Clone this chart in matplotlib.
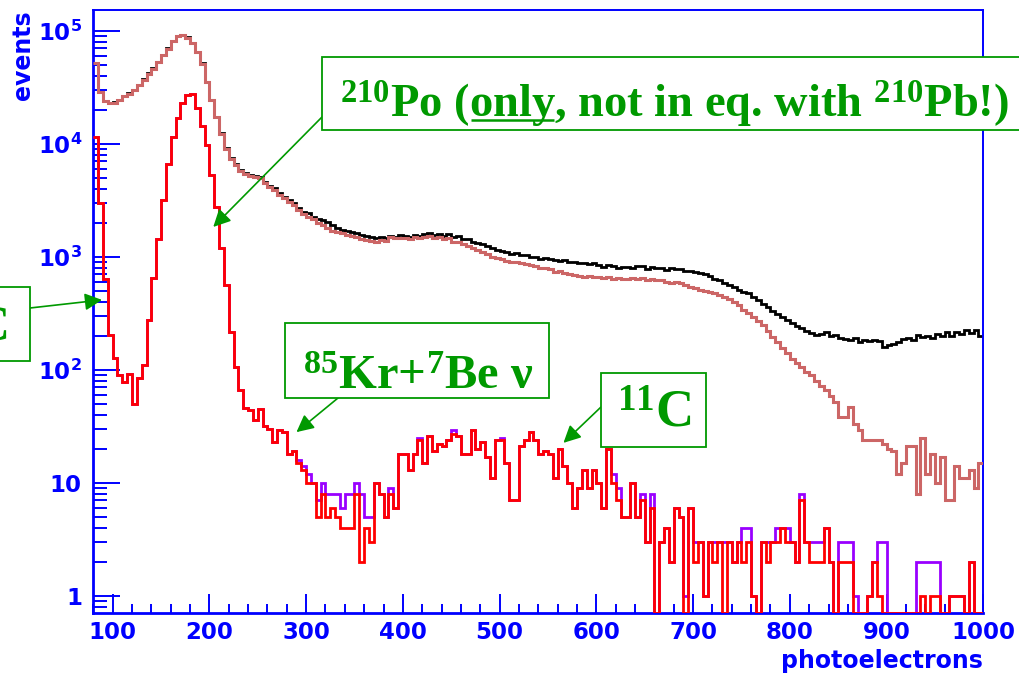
import numpy as np
import matplotlib
matplotlib.use("Agg")
import matplotlib.pyplot as plt
from matplotlib.patches import Rectangle
from matplotlib.font_manager import FontProperties
from matplotlib.ticker import FixedLocator, FixedFormatter, MultipleLocator, NullFormatter

# ---------------- data ----------------
bin_start = 80
bin_width = 5

# black: all events
total_counts = [
    51400, 28500, 24000, 23000, 23200, 24400, 26400, 27900, 29900, 33100,
    37100, 42000, 46500, 53200, 61000, 69800, 81600, 90300, 91600, 87300,
    78300, 65200, 51400, 35400, 24400, 17300, 12400, 9100, 7430, 6600,
    5850, 5470, 5290, 5170, 5040, 4610, 4250, 4030, 3640, 3400,
    3180, 2970, 2700, 2500, 2420, 2250, 2150, 2100, 2040, 1900,
    1780, 1720, 1700, 1650, 1610, 1560, 1520, 1480, 1455, 1500,
    1470, 1525, 1500, 1550, 1520, 1490, 1560, 1530, 1580, 1610,
    1560, 1590, 1520, 1600, 1480, 1510, 1440, 1420, 1360, 1315,
    1290, 1230, 1180, 1145, 1120, 1090, 1060, 1070, 1030, 1035,
    1000, 990, 960, 975, 950, 935, 920, 940, 900, 890,
    875, 880, 860, 873, 850, 816, 850, 830, 800, 810,
    816, 790, 830, 820, 780, 810, 800, 789, 760, 800,
    780, 770, 750, 740, 730, 721, 700, 670, 640, 622,
    590, 565, 540, 510, 490, 474, 440, 410, 380, 360,
    330, 310, 295, 275, 260, 244, 235, 220, 210, 203,
    205, 215, 200, 203, 190, 185, 183, 190, 175, 183,
    180, 183, 178, 160, 165, 170, 176, 185, 190, 182,
    203, 195, 198, 190, 205, 198, 215, 200, 217, 205,
    222, 210, 225, 198,
]

# salmon: after first cuts
cut_counts = [
    51400, 28500, 24000, 22800, 23000, 24200, 26200, 27600, 29700, 32800,
    36800, 41500, 46000, 52800, 60500, 69200, 81000, 89800, 91000, 86800,
    77800, 64800, 51000, 35100, 24200, 17100, 12200, 8950, 7300, 6480,
    5750, 5380, 5200, 5080, 4950, 4500, 4150, 3900, 3500, 3300,
    3050, 2850, 2600, 2400, 2260, 2130, 2000, 1900, 1783, 1700,
    1650, 1610, 1560, 1520, 1490, 1430, 1400, 1370, 1360, 1400,
    1380, 1490, 1450, 1470, 1470, 1430, 1480, 1460, 1500, 1520,
    1470, 1480, 1420, 1450, 1360, 1340, 1280, 1230, 1180, 1145,
    1100, 1050, 1000, 968, 950, 920, 900, 890, 873, 860,
    840, 820, 800, 790, 770, 736, 740, 720, 700, 690,
    680, 665, 670, 660, 665, 650, 660, 640, 650, 640,
    640, 650, 630, 645, 620, 635, 625, 622, 600, 590,
    600, 580, 560, 543, 525, 507, 495, 485, 474, 460,
    440, 420, 400, 370, 340, 315, 290, 270, 249, 220,
    195, 175, 155, 140, 125, 114, 105, 95, 90, 80,
    72, 66, 58, 52, 38, 38, 47, 33, 29, 24,
    24, 24, 24, 22, 20, 19, 12, 15, 21, 21,
    8, 25, 12, 18, 10, 17, 7, 7, 14, 11,
    11, 13, 9, 15,
]

# purple: intermediate selection
purple_counts = [
    11500, 2970, 633, 203, 126, 90, 78, 91, 50, 84,
    110, 275, 644, 1425, 3180, 6600, 11400, 16800, 22800, 27000,
    27500, 20600, 14200, 9740, 5290, 2740, 1190, 562, 217, 106,
    66, 46, 44, 36, 45, 32, 30, 23, 29, 28,
    18, 19, 16, 14, 12, 10, 7, 10, 8, 8,
    8, 6, 8, 8, 10, 8, 5, 5, 10, 8,
    5, 9, 6, 18, 18, 13, 18, 25, 15, 26,
    19, 22, 21, 24, 29, 26, 18, 18, 29, 20,
    23, 17, 11, 24, 25, 15, 7, 7, 21, 24,
    28, 24, 18, 19, 18, 11, 20, 14, 10, 6,
    9, 13, 9, 13, 10, 6, 20, 12, 9, 5,
    5, 10, 5, 8, 3, 8, 0, 3, 4, 2,
    6, 5, 1, 6, 3, 3, 1, 3, 3, 3,
    3, 3, 2, 3, 4, 4, 1, 0, 3, 3,
    3, 4, 4, 4, 3, 2, 8, 3, 3, 3,
    3, 4, 2, 0, 3, 3, 3, 1, 0, 0,
    1, 2, 3, 3, 0, 0, 0, 0, 0, 0,
    2, 2, 2, 2, 2, 0, 0, 1, 1, 1,
    0, 2, 0, 0,
]

# red: final selection
final_counts = [
    11500, 2970, 633, 203, 126, 90, 78, 91, 50, 84,
    110, 275, 644, 1425, 3180, 6600, 11400, 16800, 22800, 27000,
    27500, 20600, 14200, 9740, 5290, 2740, 1190, 562, 217, 106,
    66, 46, 44, 36, 45, 32, 30, 23, 29, 28,
    18, 19, 15, 13, 10, 10, 5, 8, 5, 6,
    5, 4, 4, 4, 8, 2, 4, 3, 10, 8,
    5, 8, 6, 18, 18, 13, 18, 24, 15, 26,
    19, 22, 21, 24, 27, 26, 18, 18, 29, 20,
    23, 17, 11, 24, 24, 15, 7, 7, 21, 24,
    28, 24, 18, 19, 18, 11, 20, 14, 10, 6,
    9, 13, 9, 13, 10, 6, 20, 10, 7, 5,
    5, 10, 5, 7, 3, 6, 0, 3, 4, 2,
    6, 5, 0, 6, 2, 3, 1, 3, 2, 3,
    0, 3, 2, 3, 2, 3, 1, 0, 3, 2,
    3, 3, 4, 3, 3, 2, 7, 3, 2, 2,
    2, 4, 2, 0, 2, 2, 2, 0, 0, 0,
    1, 2, 1, 0, 0, 0, 0, 0, 0, 0,
    0, 1, 0, 1, 1, 0, 0, 1, 1, 1,
    0, 2, 0, 0,
]

x_ticks = [100, 200, 300, 400, 500, 600, 700, 800, 900, 1000]
x_tick_labels = ["100", "200", "300", "400", "500", "600", "700", "800", "900", "1000"]
y_ticks = [1, 10, 100, 1000, 10000, 100000]
y_tick_labels = [r"$\mathbf{1}$", r"$\mathbf{10}$", r"$\mathbf{10^{2}}$",
                 r"$\mathbf{10^{3}}$", r"$\mathbf{10^{4}}$", r"$\mathbf{10^{5}}$"]

x_label = "photoelectrons"
y_label = "events"

po_text = r"$^{210}$Po (only, not in eq. with $^{210}$Pb!)"
po_prefix = r"$^{210}$Po ("
kr_text = r"$^{85}$Kr+$^{7}$Be ν"
c11_text = r"$^{11}$C"
c14_text = r"$^{14}$C"

# ---------------- style ----------------
BLUE = "#0000ff"
GREEN = "#009900"
SALMON = "#cc6666"
PURPLE = "#9900ff"
RED = "#ff0000"

plt.rcParams["font.family"] = ["DejaVu Sans"]
plt.rcParams["mathtext.rm"] = "Liberation Serif:bold"
plt.rcParams["mathtext.it"] = "Liberation Serif:bold"
plt.rcParams["mathtext.bf"] = "Liberation Serif:bold"

W, H = 1019, 675
fig = plt.figure(figsize=(W / 100, H / 100), dpi=100)
ax = fig.add_axes([93.3 / W, 62 / H, 890 / W, 603 / H])

y_min, y_max = 0.703, 1.52e5
edges = bin_start + bin_width * np.arange(len(total_counts) + 1)


def prep(vals):
    v = np.asarray(vals, dtype=float)
    return np.where(v > 0, v, y_min)


ax.stairs(prep(total_counts), edges, color="black", lw=2.0, baseline=None, zorder=2)
ax.stairs(prep(cut_counts), edges, color=SALMON, lw=2.2, baseline=None, zorder=3)
ax.stairs(prep(purple_counts), edges, color=PURPLE, lw=2.0, baseline=None, zorder=4)
ax.stairs(prep(final_counts), edges, color=RED, lw=2.0, baseline=None, zorder=5)

ax.set_yscale("log")
ax.set_xlim(80, 1000)
ax.set_ylim(y_min, y_max)

ax.xaxis.set_major_locator(FixedLocator(x_ticks))
ax.xaxis.set_major_formatter(FixedFormatter(x_tick_labels))
ax.xaxis.set_minor_locator(MultipleLocator(20))
ax.xaxis.set_minor_formatter(NullFormatter())
ax.yaxis.set_major_locator(FixedLocator(y_ticks))
ax.yaxis.set_major_formatter(FixedFormatter(y_tick_labels))
minor_y = [k * 10.0 ** d for d in range(-1, 6) for k in range(2, 10)
           if y_min < k * 10.0 ** d < y_max]
ax.yaxis.set_minor_locator(FixedLocator(minor_y))
ax.yaxis.set_minor_formatter(NullFormatter())

ax.tick_params(axis="y", which="major", direction="in", length=19.5, width=1.4,
               color=BLUE, labelcolor=BLUE, labelsize=16.5, pad=8)
ax.tick_params(axis="y", which="minor", direction="in", length=10, width=1.4, color=BLUE)
ax.tick_params(axis="x", which="major", direction="in", length=13.7, width=1.4,
               color=BLUE, labelcolor=BLUE, labelsize=16.5, pad=6)
ax.tick_params(axis="x", which="minor", direction="in", length=6.5, width=1.4, color=BLUE)
for lbl in ax.get_xticklabels():
    lbl.set_fontweight("bold")
for lbl in ax.get_yticklabels():
    lbl.set_math_fontfamily("dejavusans")

for side, sp in ax.spines.items():
    sp.set_color(BLUE)
    sp.set_linewidth(2.0 if side in ("left", "bottom") else 1.4)

fig.text(983 / W, 1 - 661 / H, x_label, ha="right", va="center", color=BLUE,
         fontsize=17, fontweight="bold")
fig.text(23 / W, 1 - 10 / H, y_label, ha="center", va="top", rotation=90,
         color=BLUE, fontsize=17, fontweight="bold")

# ---------------- annotations (pixel overlay) ----------------
ov = fig.add_axes([0, 0, 1, 1], zorder=10)
ov.set_xlim(0, W)
ov.set_ylim(H, 0)
ov.axis("off")
ov.patch.set_visible(False)


def fp(size):
    return FontProperties(family="Liberation Serif", weight="bold", size=size,
                          math_fontfamily="custom")


def box(x0, y0, x1, y1):
    ov.add_patch(Rectangle((x0, y0), x1 - x0, y1 - y0, facecolor="white",
                           edgecolor=GREEN, lw=1.3, zorder=3, clip_on=False))


box(322, 57, 1040, 130)
box(285, 323, 549, 398)
box(601, 373, 706, 447)
box(-60, 287, 30, 361)

PO_SIZE = 33.5
ov.text(340, 118, po_text, fontproperties=fp(PO_SIZE), color=GREEN, ha="left",
        va="baseline", zorder=4)
ov.text(418, 389, kr_text, fontproperties=fp(35), color=GREEN, ha="center",
        va="baseline", zorder=4)
ov.text(654, 427, c11_text, fontproperties=fp(38), color=GREEN, ha="center",
        va="baseline", zorder=4)
ov.text(8, 340, c14_text, fontproperties=fp(37), color=GREEN, ha="right",
        va="baseline", zorder=4)

# underline "only"
fig.canvas.draw()
rend = fig.canvas.get_renderer()
t_a = ov.text(340, 118, po_prefix, fontproperties=fp(PO_SIZE), ha="left", va="baseline")
t_b = ov.text(340, 118, po_prefix + "only", fontproperties=fp(PO_SIZE), ha="left", va="baseline")
xa_disp = t_a.get_window_extent(rend).x1
xb_disp = t_b.get_window_extent(rend).x1
t_a.remove()
t_b.remove()
inv = ov.transData.inverted()
xa = inv.transform((xa_disp, 0))[0]
xb = inv.transform((xb_disp, 0))[0]
ov.plot([xa + 2, xb - 2], [120, 120], color=GREEN, lw=1.8, zorder=5,
        solid_capstyle="butt")

# arrows: tip in data coordinates, tail at the box edge
arrow_kw = dict(arrowstyle="-|>", color=GREEN, lw=1.2, mutation_scale=26,
                shrinkA=0, shrinkB=0)
arrows = [
    ((204, 1830), (322, 117)),
    ((290, 28), (338, 398)),
    ((566, 22.5), (601, 407)),
    ((89, 414), (30, 308)),
]
for (tip, tail) in arrows:
    ax.annotate("", xy=tip, xycoords="data", xytext=(tail[0], H - tail[1]),
                textcoords="figure pixels", arrowprops=arrow_kw,
                annotation_clip=False, zorder=20)

fig.savefig("out.png", dpi=100)
